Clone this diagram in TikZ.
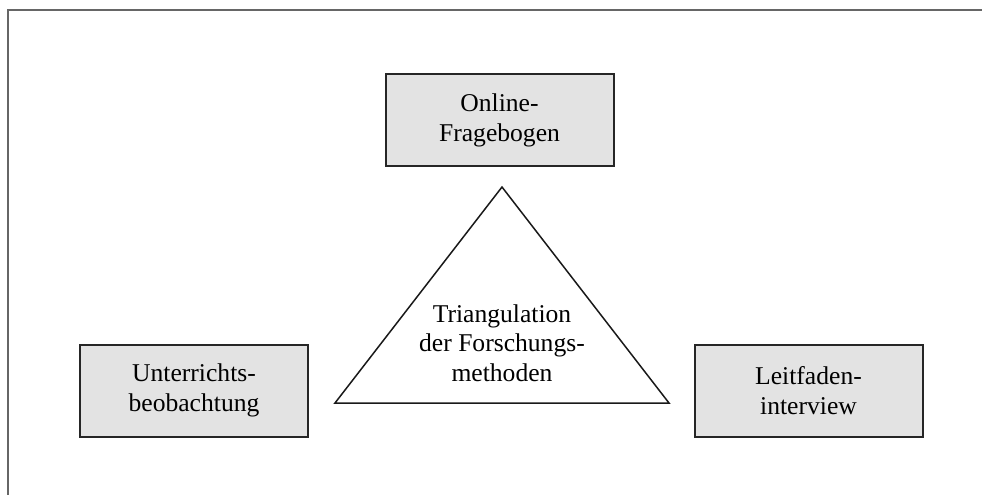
\documentclass[tikz,border=0pt]{standalone}
\usepackage{fontspec}
\setmainfont{Liberation Serif}
\begin{document}
\begin{tikzpicture}[x=0.5pt,y=-0.5pt,
  frameline/.style={draw=black!60, line width=1pt},
  box/.style={draw=black!85, line width=1pt, fill=black!11, minimum width=114pt, minimum height=46pt,
    align=center, inner sep=0pt, font=\fontsize{12.8}{14.9}\selectfont},
  tri/.style={draw=black!90, line width=0.75pt},
  label/.style={align=center, inner sep=0pt, font=\fontsize{12.8}{14.8}\selectfont}]
\useasboundingbox (0,0) rectangle (982,495);
\coordinate (fr) at (982,9.5);
\coordinate (fc) at (8,9.5);
\coordinate (fb) at (8,495);
\draw[frameline] (fr) -- (fc) -- (fb);
\node[box] (online) at (499.5,120) {Online-\\Fragebogen};
\node[box] (unterricht) at (194,390.5) {Unterrichts-\\beobachtung};
\node[box] (leitfaden) at (808.5,390.5) {Leitfaden-\\interview};
\coordinate (apex) at (502,187);
\coordinate (bl) at (335,403);
\coordinate (br) at (669,403);
\draw[tri, line join=miter] (apex) -- (bl) -- (br) -- cycle;
\node[label] (tri) at (502,343) {Triangulation\\der Forschungs-\\methoden};
\end{tikzpicture}
\end{document}
